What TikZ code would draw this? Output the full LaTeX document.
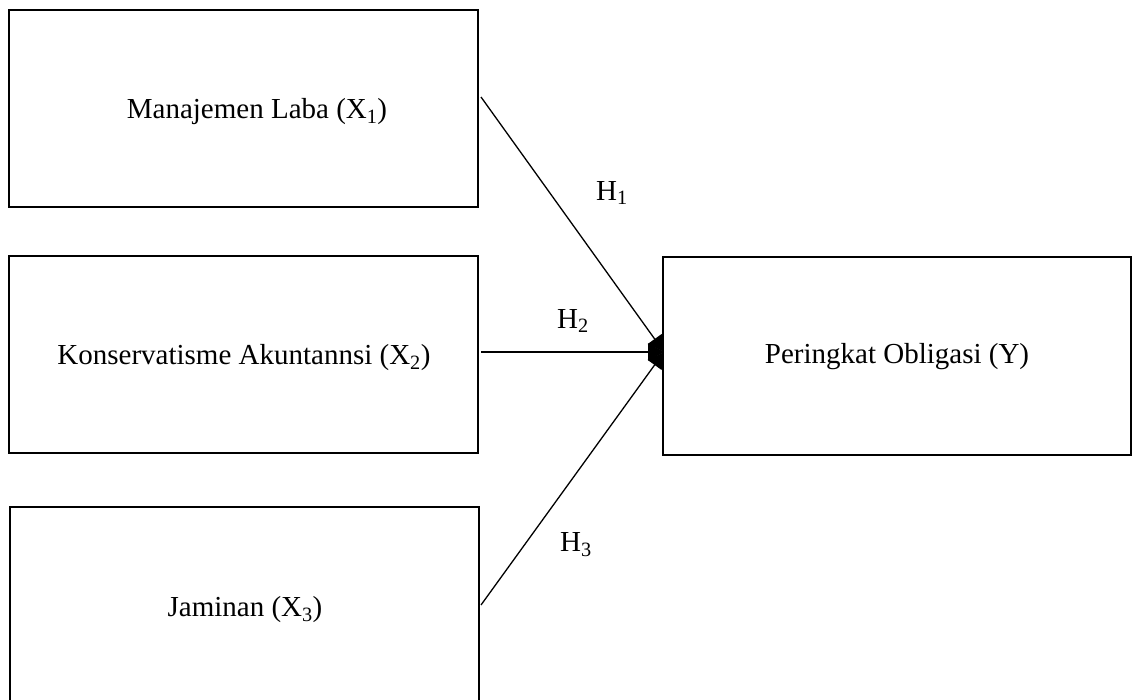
\documentclass[tikz,border=0pt]{standalone}
\usepackage{fontspec}
\setmainfont{Liberation Serif}
\usetikzlibrary{arrows.meta}
\begin{document}
\begin{tikzpicture}[x=1pt,y=-1pt,
  box/.style={draw=black,line width=1.4pt},
  lbl/.style={font=\fontsize{29}{33}\selectfont,inner sep=0pt},
  conn/.style={line width=1.3pt,-{Triangle[length=16pt,width=17pt]}}]
\useasboundingbox (0,0) rectangle (1134,700);
\clip (0,0) rectangle (1134,700);
\fill[white] (0,0) rectangle (1134,700);
\draw[box] (9,10) rectangle (478,207);
\draw[box] (9,256) rectangle (478,453);
\draw[box] (10,507) rectangle (479,710);
\draw[box] (663,257) rectangle (1131,455);
\node[lbl] (x1) at (257,112) {Manajemen Laba (X\textsubscript{1})};
\node[lbl] (x2) at (244,358) {Konservatisme Akuntannsi (X\textsubscript{2})};
\node[lbl] (x3) at (245,610) {Jaminan (X\textsubscript{3})};
\node[lbl] (y) at (897,357) {Peringkat Obligasi (Y)};
\coordinate (s1) at (481,97);
\coordinate (s2) at (481,352);
\coordinate (s3) at (481,605);
\coordinate (t) at (664,352);
\draw[conn] (s1) -- (t);
\draw[conn] (s2) -- (t);
\draw[conn] (s3) -- (t);
\node[lbl] (h1) at (612,193) {H\textsubscript{1}};
\node[lbl] (h2) at (573,321) {H\textsubscript{2}};
\node[lbl] (h3) at (576,545) {H\textsubscript{3}};
\end{tikzpicture}
\end{document}
